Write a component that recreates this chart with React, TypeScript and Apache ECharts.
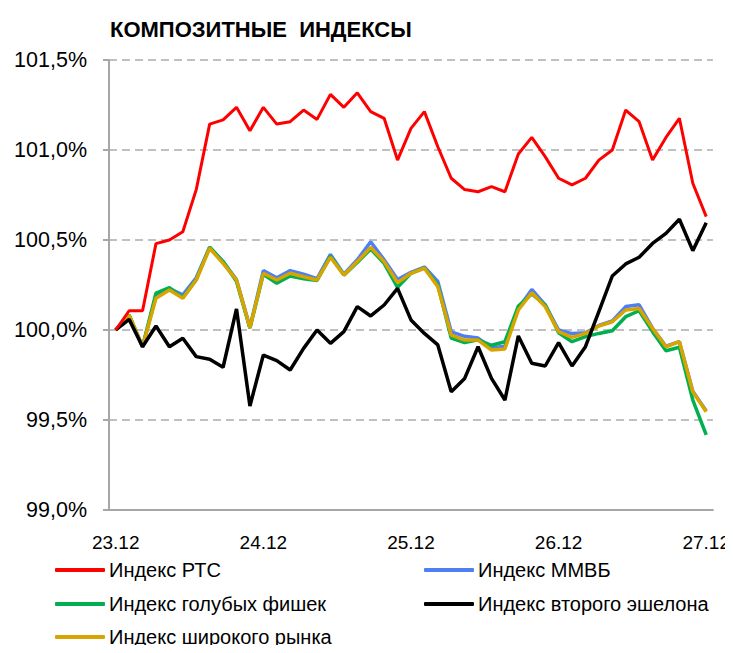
import React, { useEffect, useRef } from "react";
import * as echarts from "echarts";

const title = "КОМПОЗИТНЫЕ  ИНДЕКСЫ";
const dayLabels = ["23.12", "24.12", "25.12", "26.12", "27.12"];
const pointsPerDay = 11;
const yTicks = { min: 99.0, max: 101.5, step: 0.5 };

const seriesNames = [
  "Индекс РТС",
  "Индекс ММВБ",
  "Индекс голубых фишек",
  "Индекс второго эшелона",
  "Индекс широкого рынка",
];

const rts = [100.0, 100.107, 100.107, 100.48, 100.5, 100.546, 100.78, 101.144, 101.167, 101.237, 101.107, 101.237, 101.144, 101.157, 101.222, 101.17, 101.309, 101.237, 101.318, 101.213, 101.176, 100.944, 101.12, 101.213, 101.018, 100.843, 100.78, 100.768, 100.796, 100.768, 100.978, 101.07, 100.963, 100.843, 100.806, 100.843, 100.944, 101.0, 101.222, 101.157, 100.944, 101.07, 101.176, 100.815, 100.63];
const micex = [100.0, 100.083, 99.907, 100.19, 100.23, 100.195, 100.29, 100.46, 100.38, 100.28, 100.015, 100.33, 100.29, 100.33, 100.31, 100.285, 100.42, 100.31, 100.39, 100.49, 100.39, 100.28, 100.32, 100.35, 100.27, 99.99, 99.965, 99.955, 99.9, 99.91, 100.12, 100.225, 100.14, 100.0, 99.98, 99.985, 100.025, 100.05, 100.13, 100.14, 100.01, 99.91, 99.935, 99.66, 99.55];
const blueChips = [100.0, 100.083, 99.907, 100.205, 100.235, 100.18, 100.28, 100.46, 100.38, 100.27, 100.01, 100.31, 100.26, 100.3, 100.285, 100.275, 100.41, 100.305, 100.375, 100.45, 100.37, 100.237, 100.315, 100.345, 100.25, 99.955, 99.93, 99.945, 99.915, 99.935, 100.133, 100.2, 100.14, 99.985, 99.935, 99.963, 99.981, 99.996, 100.074, 100.107, 99.991, 99.885, 99.904, 99.611, 99.417];
const secondTier = [100.0, 100.059, 99.907, 100.022, 99.907, 99.954, 99.852, 99.837, 99.793, 100.117, 99.578, 99.861, 99.83, 99.778, 99.898, 100.0, 99.926, 99.991, 100.13, 100.078, 100.139, 100.231, 100.056, 99.981, 99.917, 99.657, 99.731, 99.907, 99.731, 99.611, 99.967, 99.815, 99.8, 99.93, 99.8, 99.907, 100.102, 100.3, 100.367, 100.404, 100.481, 100.537, 100.615, 100.441, 100.596];
const broadMarket = [100.0, 100.083, 99.907, 100.176, 100.222, 100.176, 100.278, 100.454, 100.37, 100.278, 100.013, 100.315, 100.278, 100.315, 100.296, 100.278, 100.404, 100.306, 100.38, 100.459, 100.38, 100.263, 100.315, 100.343, 100.241, 99.972, 99.944, 99.944, 99.889, 99.895, 100.111, 100.207, 100.13, 99.991, 99.959, 99.981, 100.022, 100.046, 100.111, 100.12, 100.009, 99.907, 99.935, 99.657, 99.546];

const colors = ["#ff0000", "#4f7ff5", "#00b050", "#000000", "#d8a400"];
const seriesData = [rts, micex, blueChips, secondTier, broadMarket];
const drawOrder = [1, 2, 4, 3, 0];
// legend placement: [left, top] per series
const legendPos: [number, number][] = [
  [55, 560],
  [424, 560],
  [55, 594],
  [424, 594],
  [55, 627],
];

const FONT = "'Liberation Sans', Arial, sans-serif";

export default function App() {
  const ref = useRef<HTMLDivElement>(null);
  useEffect(() => {
    if (!ref.current) return;
    const chart = echarts.init(ref.current, undefined, { renderer: "svg" });
    const categories: string[] = [];
    for (let i = 0; i < (dayLabels.length - 1) * pointsPerDay + 1; i++) {
      const d = Math.floor(i / pointsPerDay);
      categories.push(i % pointsPerDay === 0 ? dayLabels[d] : dayLabels[d] + "#" + (i % pointsPerDay));
    }
    const option: any = {
      animation: false,
      backgroundColor: "#ffffff",
      title: {
        text: title,
        left: 105,
        top: 13,
        textStyle: { fontFamily: FONT, fontSize: 22, fontWeight: "bold", color: "#000" },
      },
      graphic: [
        { type: "rect", left: 0, top: 0, shape: { width: 34, height: 7 }, style: { fill: "#d9d9d9" } },
      ],
      grid: { left: 109, right: 20, top: 60, bottom: 143, containLabel: false },
      legend: seriesNames.map((name, i) => ({
        left: legendPos[i][0],
        top: legendPos[i][1],
        padding: 0,
        itemWidth: 50,
        itemHeight: 4,
        icon: "roundRect",
        data: [name],
        textStyle: { fontFamily: FONT, fontSize: 20, color: "#000", padding: [0, 0, 0, -1] },
      })),
      xAxis: {
        type: "category",
        data: categories,
        boundaryGap: true,
        axisLine: { lineStyle: { color: "#a6a6a6", width: 2 } },
        axisTick: { show: false },
        axisLabel: {
          interval: (index: number) => index % pointsPerDay === 0,
          formatter: (v: string) => v.split("#")[0],
          fontFamily: FONT,
          fontSize: 19,
          color: "#000",
          margin: 23,
        },
        splitLine: { show: false },
      },
      yAxis: {
        type: "value",
        min: yTicks.min,
        max: yTicks.max,
        interval: yTicks.step,
        axisLine: { show: true, lineStyle: { color: "#a6a6a6", width: 2 } },
        axisTick: { show: true, inside: false, length: 6, lineStyle: { color: "#a6a6a6", width: 2 } },
        axisLabel: {
          formatter: (v: number) => v.toFixed(1).replace(".", ",") + "%",
          fontFamily: FONT,
          fontSize: 21.5,
          color: "#000",
          margin: 22,
        },
        splitLine: { show: true, lineStyle: { color: "#c0c0c0", width: 2, type: [8, 5] } },
      },
      series: drawOrder.map((i) => ({
        name: seriesNames[i],
        type: "line",
        data: seriesData[i],
        symbol: "none",
        smooth: false,
        color: colors[i],
        lineStyle: { color: colors[i], width: i === 0 ? 3 : 3.5 },
        z: 2,
      })),
    };
    chart.setOption(option);
    return () => chart.dispose();
  }, []);
  return <div ref={ref} style={{ width: 733, height: 653, margin: -8 }} />;
}
